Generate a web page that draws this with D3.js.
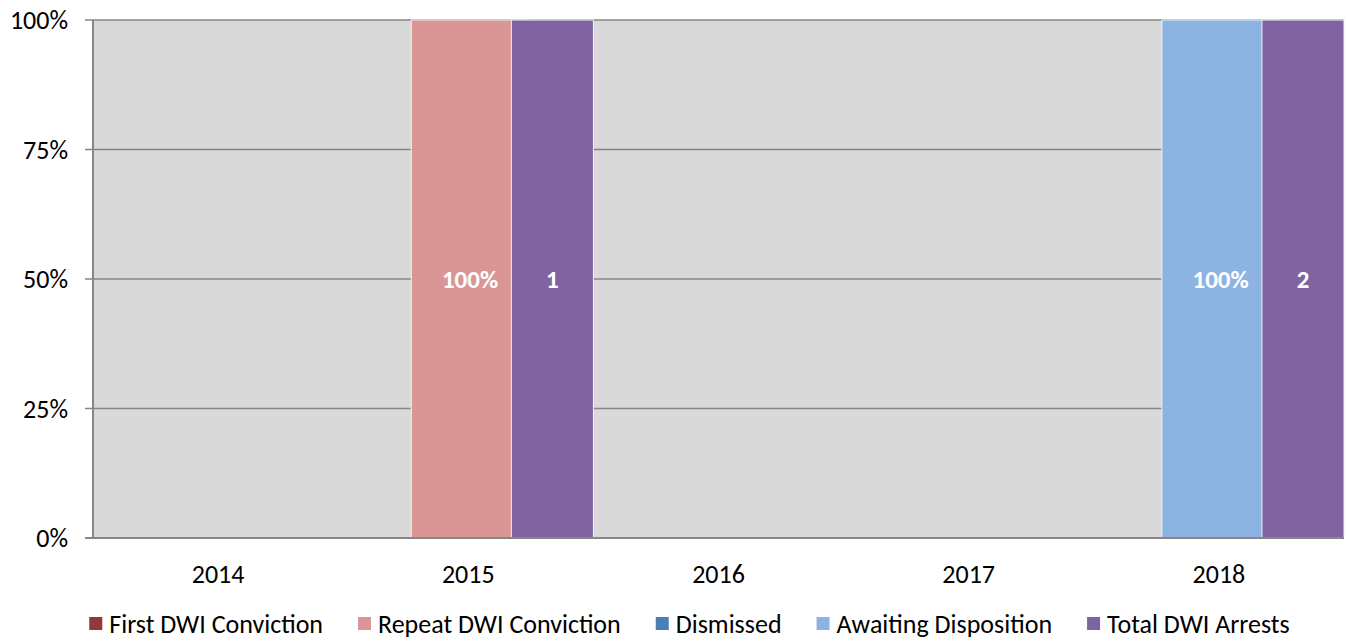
<!DOCTYPE html>
<html>
<head>
<meta charset="utf-8">
<script src="https://cdn.jsdelivr.net/npm/d3@7"></script>
<style>
  body { margin: 0; background: #fff; }
  svg text { font-family: Carlito, Calibri, Lato, sans-serif; }
</style>
</head>
<body>
<div id="chart"></div>
<script>
// data
const years = ["2014", "2015", "2016", "2017", "2018"];
const firstConviction  = [0, 0, 0, 0, 0];
const repeatConviction = [0, 1, 0, 0, 0];
const dismissed        = [0, 0, 0, 0, 0];
const awaiting         = [0, 0, 0, 0, 1];
const totalArrests     = [0, 1, 0, 0, 2];
const yTicks = [0, 0.25, 0.5, 0.75, 1];

const seriesNames = ["First DWI Conviction", "Repeat DWI Conviction", "Dismissed", "Awaiting Disposition", "Total DWI Arrests"];
const seriesColors = ["#953735", "#d99694", "#4a7ebb", "#8db3e2", "#8064a2"];

// layout
const W = 1346, H = 643;
const plot = {left: 93, right: 1344, top: 20, bottom: 538};

const svg = d3.select("#chart").append("svg")
  .attr("width", W)
  .attr("height", H);

const x = d3.scaleBand().domain(years).range([plot.left, plot.right]).padding(0);
const y = d3.scaleLinear().domain([0, 1]).range([plot.bottom, plot.top]);
const bw = x.bandwidth();

// plot background
svg.append("rect")
  .attr("x", plot.left).attr("y", plot.top)
  .attr("width", plot.right - plot.left).attr("height", plot.bottom - plot.top)
  .attr("fill", "#d9d9d9");

// gridlines + y tick marks
svg.append("g").selectAll("line")
  .data(yTicks)
  .enter().append("line")
  .attr("x1", plot.left - 8).attr("x2", plot.right)
  .attr("y1", d => y(d)).attr("y2", d => y(d))
  .attr("stroke", "#868686").attr("stroke-width", 1.5);

// y labels
svg.append("g").selectAll("text")
  .data(yTicks)
  .enter().append("text")
  .attr("x", 68).attr("y", d => y(d))
  .attr("dy", "0.35em")
  .attr("text-anchor", "end")
  .attr("font-size", 26)
  .attr("fill", "#000")
  .text(d3.format(".0%"));

// stacked percent bars
const rows = years.map((yr, i) => ({
  year: yr,
  vals: [firstConviction[i], repeatConviction[i], dismissed[i], awaiting[i]],
  total: totalArrests[i]
}));

const stackW = bw * 0.47, stackOff = bw * 0.272;
const totOff = bw * 0.672, totW = bw * 0.328;

rows.forEach(r => {
  let acc = 0;
  r.vals.forEach((v, k) => {
    if (v <= 0) return;
    const y0 = acc, y1 = acc + v;
    acc = y1;
    svg.append("rect")
      .attr("x", x(r.year) + stackOff)
      .attr("y", y(y1))
      .attr("width", stackW)
      .attr("height", y(y0) - y(y1))
      .attr("fill", seriesColors[k])
      .attr("stroke", "#f2f2f2").attr("stroke-width", 1);
    svg.append("text")
      .attr("x", x(r.year) + stackOff + stackW / 2)
      .attr("y", y((y0 + y1) / 2))
      .attr("dy", "0.35em")
      .attr("text-anchor", "middle")
      .attr("font-size", 25).attr("font-weight", "bold")
      .attr("fill", "#fff")
      .text(d3.format(".0%")(v));
  });
});

// total arrests bars (own 100% scale)
rows.forEach(r => {
  if (r.total <= 0) return;
  svg.append("rect")
    .attr("x", x(r.year) + totOff)
    .attr("y", y(1))
    .attr("width", totW)
    .attr("height", y(0) - y(1))
    .attr("fill", seriesColors[4])
    .attr("stroke", "#f2f2f2").attr("stroke-width", 1);
  svg.append("text")
    .attr("x", x(r.year) + totOff + totW / 2)
    .attr("y", y(0.5))
    .attr("dy", "0.35em")
    .attr("text-anchor", "middle")
    .attr("font-size", 25).attr("font-weight", "bold")
    .attr("fill", "#fff")
    .text(r.total);
});

// axis lines
svg.append("line")
  .attr("x1", plot.left).attr("x2", plot.left)
  .attr("y1", plot.top).attr("y2", plot.bottom)
  .attr("stroke", "#868686").attr("stroke-width", 2);
svg.append("line")
  .attr("x1", plot.left - 8).attr("x2", plot.right)
  .attr("y1", plot.bottom).attr("y2", plot.bottom)
  .attr("stroke", "#868686").attr("stroke-width", 2);

// x labels
svg.append("g").selectAll("text")
  .data(years)
  .enter().append("text")
  .attr("x", d => x(d) + bw / 2)
  .attr("y", 574)
  .attr("dy", "0.35em")
  .attr("text-anchor", "middle")
  .attr("font-size", 26)
  .attr("fill", "#000")
  .text(d => d);

// legend
const legend = svg.append("g");
const items = legend.selectAll("g")
  .data(seriesNames)
  .enter().append("g");
items.append("rect")
  .attr("width", 13).attr("height", 13)
  .attr("y", -7)
  .attr("fill", (d, i) => seriesColors[i]);
items.append("text")
  .attr("x", 20)
  .attr("dy", "0.35em")
  .attr("font-size", 26)
  .attr("fill", "#000")
  .text(d => d);

let lx = 0;
const gap = 35;
items.each(function() {
  const w = 20 + this.querySelector("text").getComputedTextLength();
  d3.select(this).attr("transform", "translate(" + lx + ",0)");
  lx += w + gap;
});
const legendW = lx - gap;
legend.attr("transform", "translate(" + (689.5 - legendW / 2) + ",624)");
</script>
</body>
</html>
